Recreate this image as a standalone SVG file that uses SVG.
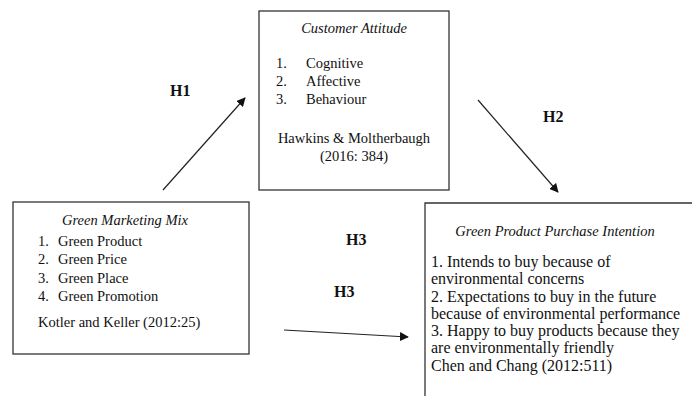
<svg xmlns="http://www.w3.org/2000/svg" width="692" height="396" viewBox="0 0 692 396">
<style>
.box{fill:#fff;stroke:#333;stroke-width:1.3}
.t{font-family:"Liberation Serif","Times New Roman",serif;font-size:14.5px;fill:#111}
.b{font-size:16px}
.i{font-style:italic}
.h{font-family:"Liberation Serif","Times New Roman",serif;font-size:16px;font-weight:bold;fill:#111}
.c{stroke:#222;stroke-width:1.2;fill:none}
</style>
<defs>
<marker id="ah" viewBox="0 0 10 10" refX="9" refY="5" markerWidth="9" markerHeight="9" markerUnits="userSpaceOnUse" orient="auto">
<path d="M0,0 L10,5 L0,10 Z" fill="#111"/>
</marker>
</defs>
<rect width="692" height="396" fill="#fff"/>
<g id="customer-attitude">
<rect class="box" x="259" y="11" width="190" height="179"/>
<text class="t i" x="354" y="33" text-anchor="middle">Customer Attitude</text>
<text class="t" x="276" y="68">1.</text><text class="t" x="306" y="68">Cognitive</text>
<text class="t" x="276" y="86">2.</text><text class="t" x="306" y="86">Affective</text>
<text class="t" x="276" y="104">3.</text><text class="t" x="306" y="104">Behaviour</text>
<text class="t" x="354" y="143" text-anchor="middle">Hawkins &amp; Moltherbaugh</text>
<text class="t" x="354" y="161" text-anchor="middle">(2016: 384)</text>
</g>
<g id="green-marketing-mix">
<rect class="box" x="13" y="202" width="236" height="152"/>
<text class="t i" x="125" y="225" text-anchor="middle">Green Marketing Mix</text>
<text class="t" x="38" y="246">1.</text><text class="t" x="58" y="246">Green Product</text>
<text class="t" x="38" y="264">2.</text><text class="t" x="58" y="264">Green Price</text>
<text class="t" x="38" y="283">3.</text><text class="t" x="58" y="283">Green Place</text>
<text class="t" x="38" y="301">4.</text><text class="t" x="58" y="301">Green Promotion</text>
<text class="t" x="38" y="327">Kotler and Keller (2012:25)</text>
</g>
<g id="purchase-intention">
<path class="box" d="M425,396 L425,203 L692,203"/>
<text class="t i" x="555" y="236" text-anchor="middle">Green Product Purchase Intention</text>
<text class="t b" x="431" y="267">1. Intends to buy because of</text>
<text class="t b" x="431" y="284">environmental concerns</text>
<text class="t b" x="431" y="302">2. Expectations to buy in the future</text>
<text class="t b" x="431" y="319">because of environmental performance</text>
<text class="t b" x="431" y="336">3. Happy to buy products because they</text>
<text class="t b" x="431" y="353">are environmentally friendly</text>
<text class="t b" x="431" y="371">Chen and Chang (2012:511)</text>
</g>
<g id="connectors">
<line class="c" x1="163" y1="190" x2="245" y2="98" marker-end="url(#ah)"/>
<line class="c" x1="478" y1="100" x2="558" y2="192" marker-end="url(#ah)"/>
<line class="c" x1="284" y1="330" x2="408" y2="337" marker-end="url(#ah)"/>
</g>
<g id="labels">
<text class="h" x="170" y="96">H1</text>
<text class="h" x="543" y="122">H2</text>
<text class="h" x="346" y="245">H3</text>
<text class="h" x="334" y="297">H3</text>
</g>
</svg>
